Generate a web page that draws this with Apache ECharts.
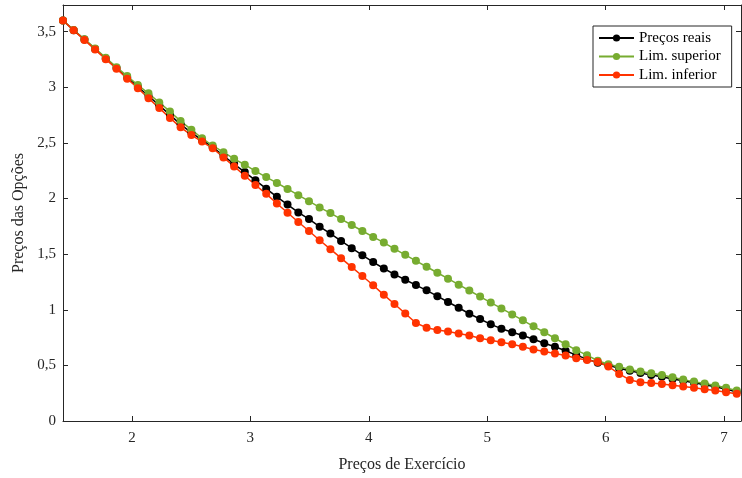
<!DOCTYPE html>
<html>
<head>
<meta charset="utf-8">
<script src="https://cdn.jsdelivr.net/npm/echarts@6/dist/echarts.min.js"></script>
<style>html,body{margin:0;padding:0;background:#fff}#c{width:742px;height:478px}</style>
</head>
<body>
<div id="c"></div>
<script>
const strikes = [1.418,1.508,1.599,1.689,1.779,1.870,1.960,2.050,2.140,2.231,2.321,2.411,2.502,2.592,2.682,2.773,2.863,2.953,3.043,3.134,3.224,3.314,3.405,3.495,3.585,3.676,3.766,3.856,3.946,4.037,4.127,4.217,4.308,4.398,4.488,4.579,4.669,4.759,4.849,4.940,5.030,5.120,5.211,5.301,5.391,5.482,5.572,5.662,5.752,5.843,5.933,6.023,6.114,6.204,6.294,6.385,6.475,6.565,6.655,6.746,6.836,6.926,7.017,7.107];
const precosReais = [3.601,3.514,3.430,3.345,3.258,3.173,3.089,3.005,2.922,2.838,2.752,2.667,2.592,2.525,2.462,2.385,2.310,2.238,2.164,2.089,2.015,1.946,1.875,1.815,1.747,1.685,1.619,1.554,1.491,1.429,1.371,1.318,1.270,1.222,1.175,1.122,1.070,1.018,0.964,0.917,0.869,0.830,0.798,0.768,0.735,0.699,0.667,0.631,0.592,0.556,0.524,0.500,0.475,0.452,0.432,0.414,0.397,0.378,0.361,0.344,0.326,0.307,0.285,0.262];
const limSuperior = [3.601,3.515,3.433,3.350,3.266,3.181,3.101,3.021,2.946,2.863,2.783,2.696,2.619,2.542,2.476,2.417,2.357,2.304,2.247,2.193,2.140,2.086,2.030,1.976,1.920,1.869,1.815,1.762,1.708,1.655,1.604,1.548,1.494,1.440,1.387,1.333,1.280,1.226,1.173,1.119,1.065,1.012,0.958,0.905,0.851,0.798,0.744,0.690,0.637,0.592,0.542,0.510,0.488,0.464,0.446,0.429,0.414,0.393,0.372,0.354,0.337,0.319,0.298,0.274];
const limInferior = [3.601,3.512,3.426,3.339,3.253,3.167,3.078,2.991,2.902,2.813,2.725,2.640,2.571,2.512,2.452,2.370,2.289,2.205,2.122,2.042,1.955,1.872,1.789,1.708,1.625,1.545,1.464,1.384,1.304,1.220,1.134,1.052,0.966,0.881,0.839,0.818,0.804,0.786,0.768,0.744,0.726,0.708,0.690,0.667,0.643,0.625,0.607,0.589,0.565,0.548,0.530,0.490,0.423,0.369,0.348,0.342,0.333,0.321,0.310,0.298,0.286,0.274,0.259,0.244];
const xTicks = [2,3,4,5,6,7];
const yTicks = [0,0.5,1,1.5,2,2.5,3,3.5];

const font = 'Liberation Serif, Times New Roman, serif';
const axisColor = '#262626';
const pair = arr => strikes.map((x,i)=>[x,arr[i]]);
const fmt = v => String(v).replace('.', ',');

const chart = echarts.init(document.getElementById('c'), null, {renderer:'canvas'});
function mkSeries(name, data, color){
  return {name, type:'line', data: pair(data), symbol:'circle', symbolSize:8, showSymbol:true,
    clip:false, lineStyle:{color, width:1.5}, itemStyle:{color}, emphasis:{disabled:true}, animation:false};
}
const baseX = {type:'value', min:1.418, max:7.143, splitLine:{show:false},
  axisLine:{show:true, onZero:false, lineStyle:{color:axisColor, width:1}},
  axisTick:{show:true, inside:true, length:5, customValues:xTicks, lineStyle:{color:axisColor}}};
const baseY = {type:'value', min:0, max:3.74, splitLine:{show:false},
  axisLine:{show:true, onZero:false, lineStyle:{color:axisColor, width:1}},
  axisTick:{show:true, inside:true, length:5, customValues:yTicks, lineStyle:{color:axisColor}}};
chart.setOption({
  animation:false,
  backgroundColor:'#fff',
  grid:{left:63, right:1, top:5, bottom:54, containLabel:false},
  xAxis:[
    Object.assign({}, baseX, {position:'bottom',
      axisLabel:{customValues:xTicks, formatter:fmt, fontFamily:font, fontSize:15, color:'#262626', margin:10},
      name:'Preços de Exercício', nameLocation:'middle', nameGap:36,
      nameTextStyle:{fontFamily:font, fontSize:16, color:'#262626'}}),
    Object.assign({}, baseX, {position:'top', axisLabel:{show:false}})
  ],
  yAxis:[
    Object.assign({}, baseY, {position:'left',
      axisLabel:{customValues:yTicks, formatter:fmt, fontFamily:font, fontSize:15, color:'#262626', margin:7},
      name:'Preços das Opções', nameLocation:'middle', nameGap:35,
      nameTextStyle:{fontFamily:font, fontSize:16, color:'#262626'}}),
    Object.assign({}, baseY, {position:'right', axisLabel:{show:false}})
  ],
  legend:{orient:'vertical', left:593, top:26, itemWidth:35, itemHeight:9, itemGap:2.5,
    padding:[4,11,4,5], borderColor:axisColor, borderWidth:1, backgroundColor:'#fff',
    textStyle:{fontFamily:font, fontSize:15, lineHeight:16, color:'#000'},
    data:['Preços reais','Lim. superior','Lim. inferior']},
  series:[
    mkSeries('Preços reais', precosReais, '#000000'),
    mkSeries('Lim. superior', limSuperior, '#77ac30'),
    mkSeries('Lim. inferior', limInferior, '#ff3300')
  ]
});
</script>
</body>
</html>
